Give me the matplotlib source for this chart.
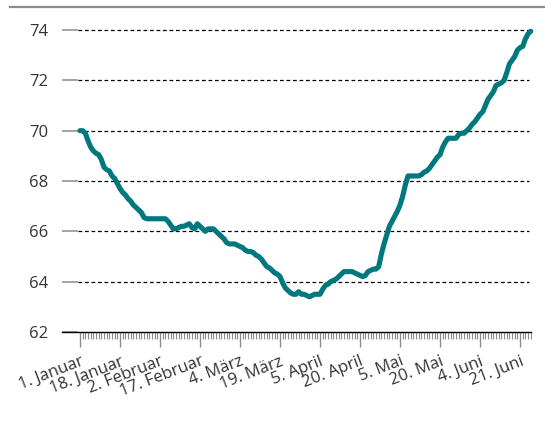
import matplotlib
matplotlib.use("Agg")
import matplotlib.pyplot as plt
from matplotlib.ticker import FixedLocator
from matplotlib.lines import Line2D

plt.rcParams['font.family'] = ['Open Sans', 'DejaVu Sans']

# daily values
values = [
    70.0, 70.0, 69.9, 69.6, 69.35, 69.2, 69.1, 69.05, 68.85, 68.55,
    68.45, 68.4, 68.2, 68.1, 67.9, 67.7, 67.55, 67.45, 67.3, 67.2,
    67.05, 66.95, 66.85, 66.75, 66.55, 66.5, 66.5, 66.5, 66.5, 66.5,
    66.5, 66.5, 66.5, 66.4, 66.25, 66.1, 66.1, 66.15, 66.2, 66.2,
    66.25, 66.3, 66.15, 66.1, 66.3, 66.2, 66.1, 66.0, 66.1, 66.1,
    66.1, 66.0, 65.9, 65.8, 65.7, 65.55, 65.5, 65.5, 65.5, 65.45,
    65.4, 65.35, 65.25, 65.2, 65.2, 65.15, 65.05, 65.0, 64.9, 64.75,
    64.6, 64.55, 64.45, 64.35, 64.3, 64.2, 63.95, 63.75, 63.65, 63.55,
    63.5, 63.5, 63.6, 63.5, 63.5, 63.45, 63.4, 63.45, 63.5, 63.5,
    63.5, 63.7, 63.85, 63.9, 64.0, 64.05, 64.1, 64.2, 64.3, 64.4,
    64.4, 64.4, 64.4, 64.35, 64.3, 64.25, 64.2, 64.25, 64.4, 64.45,
    64.5, 64.5, 64.6, 65.1, 65.5, 65.85, 66.2, 66.4, 66.6, 66.8,
    67.05, 67.4, 67.85, 68.2, 68.2, 68.2, 68.2, 68.2, 68.25, 68.35,
    68.4, 68.5, 68.65, 68.8, 68.95, 69.05, 69.35, 69.55, 69.7, 69.7,
    69.7, 69.7, 69.85, 69.9, 69.9, 70.0, 70.1, 70.25, 70.35, 70.5,
    70.65, 70.75, 71.0, 71.25, 71.4, 71.55, 71.8, 71.85, 71.9, 72.0,
    72.3, 72.65, 72.8, 72.95, 73.2, 73.3, 73.35, 73.65, 73.85, 73.95,
]
tick_labels = ['1. Januar', '18. Januar', '2. Februar', '17. Februar',
               '4. März', '19. März', '5. April', '20. April', '5. Mai',
               '20. Mai', '4. Juni', '21. Juni']
label_step = 15
y_ticks = [62, 64, 66, 68, 70, 72, 74]

W, H = 545, 423
fig = plt.figure(figsize=(W / 100, H / 100), dpi=100)
ax = fig.add_axes([62 / W, (H - 332) / H, (531 - 62) / W, (332 - 25) / H])

x = list(range(len(values)))
ax.plot(x, values, color='#00787e', lw=3.7, solid_capstyle='round',
        solid_joinstyle='round', clip_on=False, zorder=3)

ax.set_xlim(-6.75, 169.1)
ax.set_ylim(62, 74.2)

# dashed gridlines start right after the short grey tick marks
for y in y_ticks[1:]:
    ax.axhline(y, xmin=16 / 469, xmax=0.995, color='black', lw=0.9,
               ls=(0, (3, 2.2)), zorder=1)

ax.set_yticks(y_ticks)
ax.tick_params(axis='y', direction='in', length=11.5, width=1.1,
               color='#8c8c8c', pad=10, labelsize=12, labelcolor='#333333')

ax.xaxis.set_major_locator(FixedLocator(x[::label_step]))
ax.xaxis.set_minor_locator(FixedLocator(x))
ax.set_xticklabels(tick_labels, rotation=21, ha='right', rotation_mode='anchor')
ax.tick_params(axis='x', which='major', direction='out', length=10.5, width=1,
               color='#8c8c8c', pad=5, labelsize=12, labelcolor='#333333')
ax.tick_params(axis='x', which='minor', direction='out', length=5, width=0.8,
               color='#8c8c8c')

for side in ['top', 'right', 'left']:
    ax.spines[side].set_visible(False)
ax.spines['bottom'].set_color('black')
ax.spines['bottom'].set_linewidth(1)

# grey rule across the top of the figure
fig.add_artist(Line2D([10 / W, 1], [(H - 7) / H] * 2, color='#8c8c8c', lw=1.6))

fig.savefig('out.png', dpi=100)
